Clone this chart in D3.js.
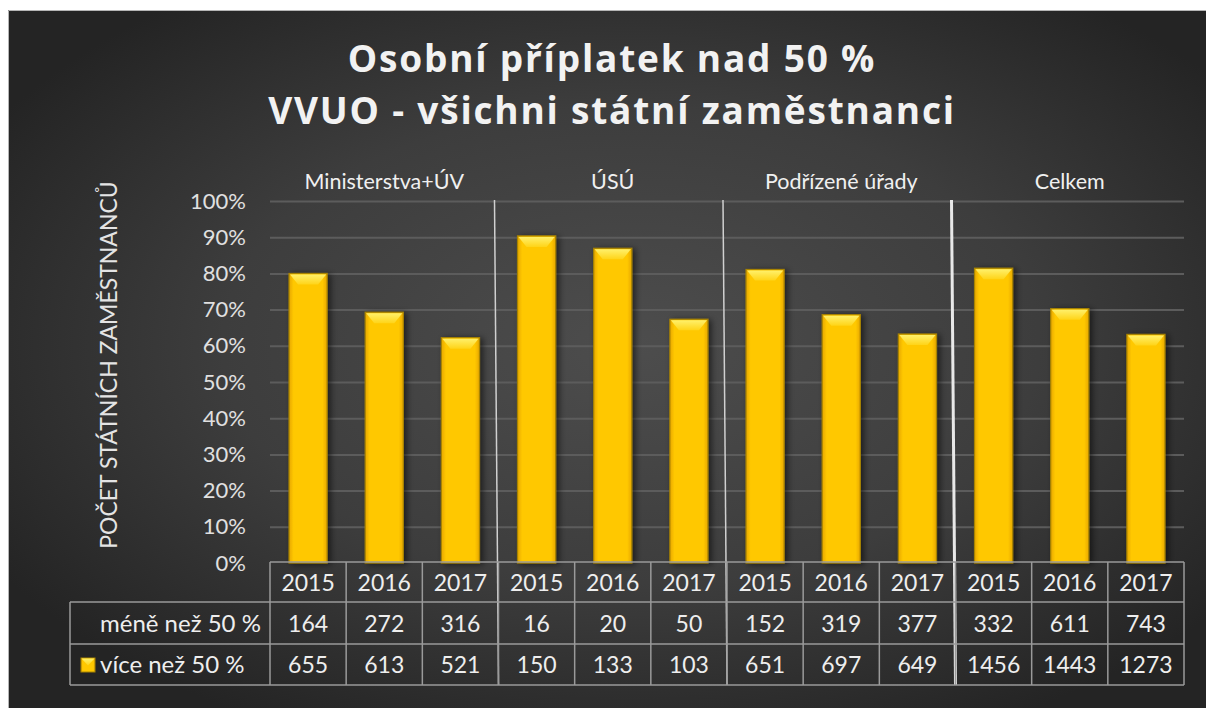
<!DOCTYPE html>
<meta charset="utf-8">
<style>
  body { margin: 0; background: #fff; }
  svg text { font-family: Lato, "Open Sans", sans-serif; }
</style>
<svg id="chart" width="1206" height="708"></svg>
<script src="https://d3js.org/d3.v7.min.js"></script>
<script>

var titleLines = ["Osobní příplatek nad 50 %", "VVUO - všichni státní zaměstnanci"]
var yLabel = "POČET STÁTNÍCH ZAMĚSTNANCŮ"
var groups = ["Ministerstva+ÚV", "ÚSÚ", "Podřízené úřady", "Celkem"]
var years = ["2015", "2016", "2017"]
var seriesNames = ["více než 50 %", "méně než 50 %"]
var below50 = [164, 272, 316, 16, 20, 50, 152, 319, 377, 332, 611, 743]
var above50 = [655, 613, 521, 150, 133, 103, 651, 697, 649, 1456, 1443, 1273]
var yTicks = [0, 0.1, 0.2, 0.3, 0.4, 0.5, 0.6, 0.7, 0.8, 0.9, 1]

function drawChart() {
  // one row per column (group x year)
  var rows = []
  groups.forEach(function(g, gi) {
    years.forEach(function(yr, yi) {
      var i = gi * years.length + yi
      rows.push({id: g + "|" + yr, group: g, year: yr, above: above50[i], below: below50[i]})
    })
  })

  var stacked = d3.stack().keys(["above", "below"]).offset(d3.stackOffsetExpand)(rows)

  var svg = d3.select("#chart"),
      W = +svg.attr("width"), H = +svg.attr("height")

  var defs = svg.append("defs")
  var bg = defs.append("radialGradient").attr("id", "bg")
      .attr("cx", "52%").attr("cy", "48%").attr("r", "62%")
  bg.append("stop").attr("offset", "0%").attr("stop-color", "#4d4d4d")
  bg.append("stop").attr("offset", "55%").attr("stop-color", "#3d3d3d")
  bg.append("stop").attr("offset", "100%").attr("stop-color", "#242424")

  var barGrad = defs.append("linearGradient").attr("id", "barGrad")
      .attr("x1", "0%").attr("x2", "100%").attr("y1", "0%").attr("y2", "0%")
  barGrad.append("stop").attr("offset", "0%").attr("stop-color", "#e8a800")
  barGrad.append("stop").attr("offset", "12%").attr("stop-color", "#ffc800")
  barGrad.append("stop").attr("offset", "88%").attr("stop-color", "#ffc800")
  barGrad.append("stop").attr("offset", "100%").attr("stop-color", "#e8a800")

  var bevelGrad = defs.append("linearGradient").attr("id", "bevelGrad")
      .attr("x1", "0%").attr("x2", "0%").attr("y1", "0%").attr("y2", "100%")
  bevelGrad.append("stop").attr("offset", "0%").attr("stop-color", "#fff06a")
  bevelGrad.append("stop").attr("offset", "100%").attr("stop-color", "#ffd418")

  var shadow = defs.append("filter").attr("id", "shadow")
      .attr("x", "-30%").attr("y", "-10%").attr("width", "170%").attr("height", "130%")
  shadow.append("feDropShadow").attr("dx", 3).attr("dy", 1).attr("stdDeviation", 3)
      .attr("flood-color", "#000").attr("flood-opacity", 0.55)

  // background
  svg.append("rect").attr("x", 8).attr("y", 10).attr("width", W - 8).attr("height", H - 10)
      .attr("fill", "url(#bg)")
  svg.append("path").attr("d", "M8.5," + H + "V10.5H" + W)
      .attr("fill", "none").attr("stroke", "#b5b5b5").attr("stroke-width", 1)

  var plotLeft = 270, plotRight = 1184, plotTop = 201, plotBottom = 563

  var x = d3.scaleBand().domain(rows.map(d => d.id)).range([plotLeft, plotRight])
      .paddingInner(0.5).paddingOuter(0.25)
  var colW = (plotRight - plotLeft) / rows.length
  var y = d3.scaleLinear().domain([0, 1]).range([plotBottom, plotTop])

  // title
  svg.append("g").selectAll("text").data(titleLines).enter().append("text")
      .attr("x", 612).attr("y", (d, i) => 72 + i * 52)
      .attr("text-anchor", "middle")
      .attr("fill", "#f2f2f2")
      .style("font-family", "'Open Sans', sans-serif")
      .style("font-weight", 700).style("font-size", "37px")
      .style("letter-spacing", "1.8px")
      .text(d => d)

  // gridlines
  svg.append("g").attr("class", "grid")
      .attr("transform", "translate(" + plotLeft + ",0)")
      .call(d3.axisLeft(y).tickValues(yTicks.slice(1)).tickSize(-(plotRight - plotLeft)).tickFormat(""))
      .call(g => g.select(".domain").remove())
      .call(g => g.selectAll("line").attr("stroke", "#5c5c5c").attr("stroke-width", 2))

  // y axis labels
  svg.append("g")
      .attr("transform", "translate(250,0)")
      .call(d3.axisLeft(y).tickValues(yTicks).tickSize(0).tickFormat(d3.format(".0%")))
      .call(g => g.select(".domain").remove())
      .call(g => g.selectAll("text").attr("fill", "#e0e0e0").attr("x", -4)
          .style("font-size", "22px").style("font-family", "Lato, sans-serif"))

  svg.append("text")
      .attr("transform", "translate(117,365) rotate(-90)")
      .attr("text-anchor", "middle")
      .attr("fill", "#e4e4e4")
      .style("font-size", "23px")
      .text(yLabel)

  // group labels
  svg.append("g").selectAll("text").data(groups).enter().append("text")
      .attr("x", (d, i) => plotLeft + colW * years.length * (i + 0.5))
      .attr("y", 189)
      .attr("text-anchor", "middle")
      .attr("fill", "#f0f0f0")
      .style("font-size", "21.5px")
      .text(d => d)

  // bars (only the "více než 50 %" series is filled)
  var bw = x.bandwidth()
  var bars = svg.append("g").selectAll("g").data(stacked[0]).enter().append("g")
      .attr("transform", d => "translate(" + x(d.data.id) + "," + y(d[1]) + ")")

  bars.append("rect")
      .attr("width", bw).attr("height", d => y(d[0]) - y(d[1]))
      .attr("fill", "url(#barGrad)")
      .attr("stroke", "#a88400").attr("stroke-width", 1.2)
      .attr("filter", "url(#shadow)")

  bars.append("path")
      .attr("d", "M1,1H" + (bw - 1) + "L" + (bw - 9) + ",11H9Z")
      .attr("fill", "url(#bevelGrad)")

  // separators between groups
  var sepX = d3.range(1, groups.length).map(i => plotLeft + colW * years.length * i)
  svg.append("g").selectAll("line").data(sepX).enter().append("line")
      .attr("x1", d => d - 4).attr("x2", d => d)
      .attr("y1", 200).attr("y2", 685)
      .attr("stroke", (d, i) => i == 2 ? "#e8e8e8" : "#d0d0d0")
      .attr("stroke-width", (d, i) => i == 2 ? 3 : 1.5)

  // data table
  var t0 = 562, t1 = 602, t2 = 644, t3 = 685, tl = 70
  var table = svg.append("g").attr("stroke", "#9a9a9a").attr("stroke-width", 1.5).attr("fill", "none")
  table.append("line").attr("x1", plotLeft).attr("x2", plotRight).attr("y1", t0).attr("y2", t0)
  ;[t1, t2, t3].forEach(function(yy) {
    table.append("line").attr("x1", tl).attr("x2", plotRight).attr("y1", yy).attr("y2", yy)
  })
  table.append("line").attr("x1", tl).attr("x2", tl).attr("y1", t1).attr("y2", t3)
  d3.range(rows.length + 1).forEach(function(i) {
    table.append("line").attr("x1", plotLeft + colW * i).attr("x2", plotLeft + colW * i)
        .attr("y1", t0).attr("y2", t3)
  })

  var cellText = svg.append("g").attr("fill", "#eeeeee").style("font-size", "23px")
      .attr("text-anchor", "middle")
  cellText.selectAll(".yr").data(rows).enter().append("text")
      .attr("x", (d, i) => plotLeft + colW * (i + 0.5)).attr("y", t0 + 29)
      .text(d => d.year)
  cellText.selectAll(".lo").data(rows).enter().append("text")
      .attr("x", (d, i) => plotLeft + colW * (i + 0.5)).attr("y", t1 + 30)
      .text(d => d.below)
  cellText.selectAll(".hi").data(rows).enter().append("text")
      .attr("x", (d, i) => plotLeft + colW * (i + 0.5)).attr("y", t2 + 29)
      .text(d => d.above)

  svg.append("text").attr("x", 100).attr("y", t1 + 30).attr("fill", "#eeeeee")
      .style("font-size", "24px").text(seriesNames[1])
  svg.append("text").attr("x", 100).attr("y", t2 + 29).attr("fill", "#eeeeee")
      .style("font-size", "24px").text(seriesNames[0])

  // legend key
  var key = svg.append("g").attr("transform", "translate(81," + (t2 + 14) + ")")
  key.append("rect").attr("width", 14).attr("height", 14)
      .attr("fill", "url(#barGrad)").attr("stroke", "#a88400")
  key.append("path").attr("d", "M0.5,0.5H13.5L7,7.5Z").attr("fill", "url(#bevelGrad)")
}

drawChart()

</script>
